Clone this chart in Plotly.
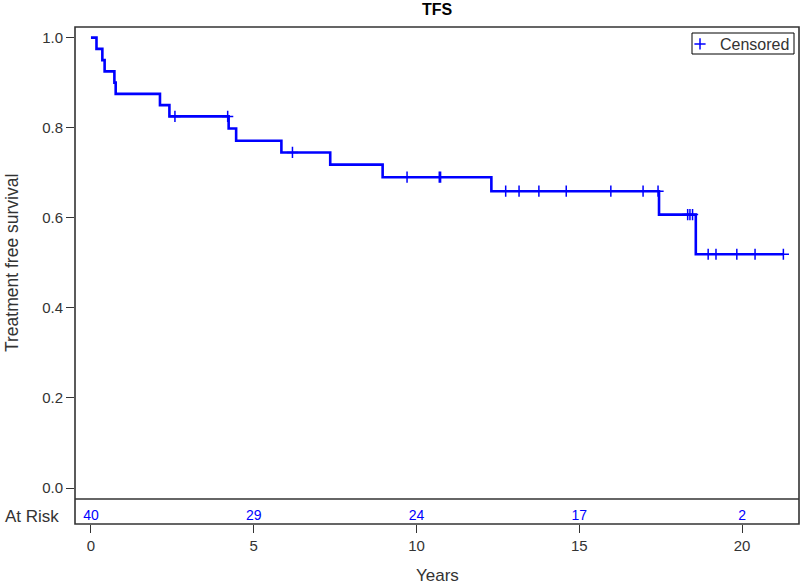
import plotly.graph_objects as go

# ---- data ----
step_times = [0, 0.17, 0.35, 0.42, 0.72, 0.76, 2.12, 2.41, 4.23, 4.46, 5.85, 7.35, 8.96, 12.30, 17.45, 18.58, 21.27]
step_surv  = [1.0, 0.975, 0.95, 0.925, 0.90, 0.875, 0.85, 0.825, 0.798, 0.771, 0.745, 0.718, 0.690, 0.659, 0.607, 0.519, 0.519]
censor_times = [2.58, 4.20, 6.19, 9.71, 10.70, 10.74, 12.74, 13.15, 13.76, 14.60, 15.97, 16.96, 17.42,
                18.33, 18.40, 18.48, 18.96, 19.20, 19.84, 20.40, 21.27]
risk_times = [0, 5, 10, 15, 20]
risk_counts = [40, 29, 24, 17, 2]
x_ticks = [0, 5, 10, 15, 20]
y_ticks = [0.0, 0.2, 0.4, 0.6, 0.8, 1.0]

def surv_at(t):
    s = step_surv[0]
    for tt, ss in zip(step_times, step_surv):
        if tt <= t:
            s = ss
    return s

censor_surv = [surv_at(t) for t in censor_times]

FONT = "Liberation Sans, Arial, sans-serif"
BLUE = "#0000FF"
DARK = "#333333"

W, H = 800, 584
L, R, T, B = 75, 1, 27, 60
plot_h = H - T - B
plot_w = W - L - R
risk_h = 25
split = risk_h / plot_h

def px_x(px):
    return (px - L) / plot_w

def px_y(py):
    return (H - B - py) / plot_h

fig = go.Figure()
fig.add_trace(go.Scatter(
    x=step_times, y=step_surv, mode="lines", line=dict(color=BLUE, width=2.6, shape="hv"),
    showlegend=False, hoverinfo="skip", xaxis="x", yaxis="y"))
fig.add_trace(go.Scatter(
    x=censor_times, y=censor_surv, mode="markers", name="Censored",
    marker=dict(symbol="cross-thin", size=8, color=BLUE, line=dict(color=BLUE, width=1.5)),
    xaxis="x", yaxis="y"))
fig.add_trace(go.Scatter(
    x=risk_times, y=[0.32] * len(risk_times), mode="text",
    text=[str(c) for c in risk_counts], textposition="middle center",
    textfont=dict(family=FONT, size=14, color=BLUE),
    showlegend=False, hoverinfo="skip", xaxis="x", yaxis="y2"))

fig.update_layout(
    width=W, height=H,
    margin=dict(l=L, r=R, t=T, b=B, autoexpand=False),
    paper_bgcolor="white", plot_bgcolor="white",
    font=dict(family=FONT, color=DARK, size=14),
    title=dict(text="<b>TFS</b>", x=0.5, xref="paper", y=1 - 9 / H, yref="container",
               yanchor="middle", font=dict(family=FONT, size=16, color="black")),
    xaxis=dict(range=[-0.49, 21.75], tickvals=x_ticks, ticks="outside", ticklen=8, tickwidth=1.3,
               tickcolor=DARK, showgrid=False, zeroline=False, showline=False, anchor="y2",
               automargin=False, tickfont=dict(size=15, color=DARK)),
    yaxis=dict(domain=[split, 1], range=[-0.0244, 1.0235], tickvals=y_ticks,
               ticktext=[f"{v:.1f}" for v in y_ticks], ticks="outside", ticklen=8, tickwidth=1.3,
               tickcolor=DARK, showgrid=False, zeroline=False, showline=False, anchor="x",
               automargin=False, tickfont=dict(size=15, color=DARK)),
    yaxis2=dict(domain=[0, split], range=[0, 1], showticklabels=False, ticks="", showgrid=False,
                zeroline=False, showline=False, anchor="x", automargin=False),
    legend=dict(x=px_x(680), xanchor="left", y=px_y(27), yanchor="top",
                borderwidth=0, bgcolor="rgba(0,0,0,0)",
                font=dict(family=FONT, size=16, color=DARK),
                itemwidth=30, tracegroupgap=0),
    shapes=[
        dict(type="rect", xref="paper", yref="paper", x0=0, x1=1, y0=0, y1=1,
             line=dict(color=DARK, width=1.6)),
        dict(type="line", xref="paper", yref="paper", x0=0, x1=1, y0=split, y1=split,
             line=dict(color=DARK, width=1.6)),
        dict(type="rect", xref="paper", yref="paper", x0=px_x(692), x1=px_x(794),
             y0=px_y(54), y1=px_y(33), line=dict(color="black", width=1)),
    ],
    annotations=[
        dict(text="At Risk", xref="paper", yref="paper", x=0, y=split * 0.32, xanchor="right",
             yanchor="middle", xshift=-14, showarrow=False, font=dict(size=17, color=DARK)),
        dict(text="Treatment free survival", xref="paper", yref="paper", x=0, xshift=-63,
             y=split + (1 - split) / 2, textangle=-90, xanchor="center", yanchor="middle",
             showarrow=False, font=dict(size=17.5, color=DARK)),
        dict(text="Years", xref="paper", yref="paper", x=0.5, y=0, yshift=-40,
             xanchor="center", yanchor="top", showarrow=False, font=dict(size=17, color=DARK)),
    ],
)

fig.write_html("out.html", config={"displayModeBar": False},
               post_script="document.body.style.margin='0';")
